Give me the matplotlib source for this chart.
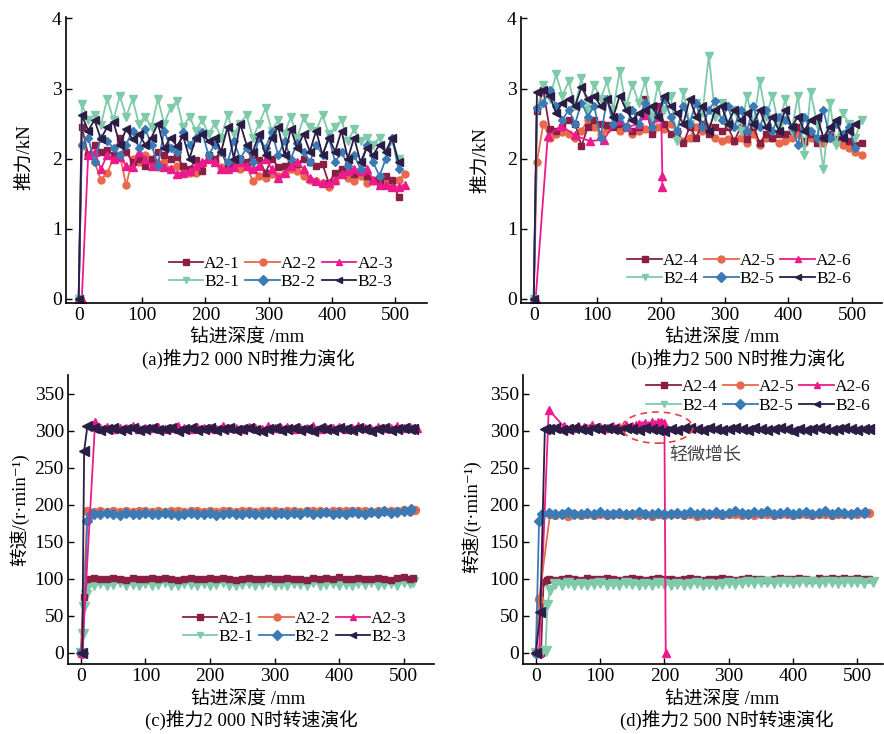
import matplotlib
matplotlib.use("Agg")
import matplotlib.pyplot as plt
from matplotlib.patches import Ellipse
import numpy as np

plt.rcParams["font.family"] = ["Liberation Serif", "Noto Sans CJK SC", "DejaVu Sans"]
plt.rcParams["axes.unicode_minus"] = False

# ---------------- thrust data (kN) ----------------
# common depth grid (mm) for thrust curves
thrust_x = [0, 5, 15, 25, 35, 45, 55, 65, 75, 85,
            95, 105, 115, 125, 135, 145, 155, 165, 175, 185,
            195, 205, 215, 225, 235, 245, 255, 265, 275, 285,
            295, 305, 315, 325, 335, 345, 355, 365, 375, 385,
            395, 405, 415, 425, 435, 445, 455, 465, 475, 485,
            495, 505, 515]
nan = np.nan

# (a) 2000 N
a2_1 = [0, 2.45, 2.05, 2.2, 2.1, 2.12, 2.05, 2.3, 2.1, 1.95,
        2.0, 1.9, 2.0, 2.1, 2.05, 2.0, 2.02, 1.9, 1.85, 1.98,
        1.82, 2.05, 2.0, 2.1, 1.9, 1.95, 2.0, 1.95, 2.05, 1.98,
        1.8, 2.0, 1.88, 1.9, 1.95, 1.92, 2.0, 1.95, 1.9, 1.92,
        1.65, 1.8, 1.85, 1.9, 1.78, 1.82, 1.75, 1.7, 1.65, 1.75,
        1.7, 1.45, nan]
a2_2 = [0, 2.2, 2.05, 1.95, 1.7, 1.8, 2.0, 2.05, 1.62, 2.0,
        1.95, 2.05, 1.95, 1.88, 1.95, 1.85, 1.9, 1.8, 1.8, 1.8,
        1.92, 2.0, 1.95, 1.88, 1.85, 1.9, 1.85, 1.9, 1.68, 1.75,
        1.72, 1.78, 1.75, 1.8, 1.85, 1.82, 1.75, 1.7, 1.68, 1.65,
        1.6, 1.68, 1.78, 1.72, 1.68, 1.75, 1.65, 1.68, 1.7, 1.65,
        1.65, 1.7, 1.78]
a2_3 = [0, 0, 2.05, 2.1, 1.85, 2.05, 2.0, 2.02, 1.9, 1.88,
        2.1, 2.0, 1.9, 1.95, 1.88, 1.85, 1.78, 1.8, 1.82, 1.9,
        1.95, 2.0, 1.95, 1.85, 1.85, 1.88, 1.95, 1.9, 1.85, 1.9,
        2.0, 1.85, 1.72, 1.8, 1.9, 1.95, 1.85, 1.72, 1.68, 1.65,
        1.65, 1.7, 1.78, 1.82, 1.85, 1.82, 1.85, 1.7, 1.62, 1.62,
        1.6, 1.6, 1.63]
b2_1 = [0, 2.78, 2.55, 2.62, 2.48, 2.85, 2.55, 2.9, 2.6, 2.85,
        2.5, 2.6, 2.45, 2.85, 2.5, 2.72, 2.82, 2.45, 2.6, 2.4,
        2.55, 2.35, 2.5, 2.3, 2.62, 2.35, 2.5, 2.62, 2.3, 2.5,
        2.72, 2.4, 2.55, 2.35, 2.6, 2.3, 2.58, 2.45, 2.4, 2.62,
        2.35, 2.45, 2.55, 2.25, 2.42, 2.25, 2.3, 2.2, 2.3, 2.1,
        2.25, 2.0, nan]
b2_2 = [0, 2.2, 2.3, 1.95, 2.3, 2.25, 2.15, 2.05, 2.2, 2.4,
        2.15, 2.42, 2.2, 1.9, 2.4, 2.15, 2.1, 2.38, 2.2, 2.3,
        2.38, 2.05, 2.2, 2.1, 1.95, 2.25, 2.0, 2.15, 1.95, 2.3,
        2.15, 2.38, 2.05, 2.25, 2.0, 2.22, 2.1, 1.95, 2.2, 2.05,
        2.3, 1.95, 2.1, 1.9, 2.05, 1.85, 2.2, 1.95, 1.75, 2.0,
        2.3, 1.85, nan]
b2_3 = [0, 2.62, 2.4, 2.55, 2.28, 2.45, 2.52, 2.2, 2.42, 2.28,
        2.35, 2.2, 2.3, 2.5, 2.15, 2.3, 2.18, 2.32, 2.0, 2.3,
        2.35, 2.25, 2.3, 2.1, 2.45, 2.0, 2.5, 2.2, 2.1, 2.35,
        2.05, 2.3, 2.45, 2.05, 2.42, 2.15, 2.35, 2.1, 2.4, 2.05,
        2.3, 2.1, 2.4, 2.0, 2.3, 1.95, 2.15, 2.05, 2.2, 2.1,
        2.3, 1.95, nan]

# (b) 2500 N
a2_4 = [0, 2.68, 2.98, 2.42, 2.4, 2.45, 2.55, 2.5, 2.18, 2.45,
        2.55, 2.5, 2.48, 2.45, 2.5, 2.45, 2.4, 2.45, 2.85, 2.35,
        2.75, 2.5, 2.35, 2.4, 2.22, 2.45, 2.3, 2.5, 2.35, 2.45,
        2.4, 2.45, 2.25, 2.45, 2.28, 2.45, 2.22, 2.35, 2.3, 2.35,
        2.35, 2.4, 2.45, 2.25, 2.35, 2.22, 2.3, 2.35, 2.28, 2.3,
        2.25, 2.2, 2.22]
a2_5 = [0, 1.95, 2.5, 2.3, 2.35, 2.38, 2.35, 2.3, 2.4, 2.55,
        2.45, 2.35, 2.42, 2.48, 2.4, 2.45, 2.35, 2.4, 2.42, 2.4,
        2.45, 2.42, 2.5, 2.38, 2.25, 2.3, 2.45, 2.4, 2.45, 2.3,
        2.25, 2.28, 2.25, 2.3, 2.22, 2.35, 2.2, 2.3, 2.3, 2.22,
        2.25, 2.3, 2.35, 2.22, 2.3, 2.25, 2.22, 2.3, 2.25, 2.2,
        2.15, 2.1, 2.05]
a2_6_x = [0, 3, 22, 43, 65, 88, 110, 130, 148, 165, 175, 185, 195, 200, 202, 202]
a2_6 = [0, 0, 2.32, 2.47, 2.33, 2.25, 2.27, 2.55, 2.45, 2.5, 2.62, 2.58, 2.6, 2.75, 1.75, 1.6]
b2_4 = [0, 2.7, 3.05, 2.85, 3.2, 2.9, 3.1, 2.75, 3.15, 2.7,
        3.05, 2.85, 3.1, 2.7, 3.25, 2.75, 3.05, 2.8, 3.1, 2.6,
        3.05, 2.7, 2.9, 2.25, 2.95, 2.5, 2.8, 2.65, 3.47, 2.6,
        2.8, 2.5, 2.7, 2.4, 2.9, 2.5, 3.1, 2.6, 2.9, 2.45,
        2.85, 2.4, 2.9, 2.05, 2.95, 2.5, 1.85, 2.8, 2.2, 2.65,
        2.5, 2.3, 2.55]
b2_5 = [0, 2.72, 2.8, 2.98, 2.75, 2.55, 2.7, 2.5, 2.8, 2.6,
        2.75, 2.3, 2.85, 2.5, 2.6, 2.45, 2.7, 2.5, 2.8, 2.45,
        2.62, 2.85, 2.6, 2.4, 2.75, 2.5, 2.8, 2.45, 2.7, 2.82,
        2.55, 2.75, 2.45, 2.7, 2.4, 2.75, 2.45, 2.7, 2.4, 2.6,
        2.55, 2.45, 2.2, 2.6, 2.4, 2.3, 2.7, 2.3, 2.5, 2.35,
        2.45, 2.15, nan]
b2_6 = [0, 2.95, 2.98, 2.9, 2.65, 2.8, 2.85, 2.75, 3.02, 2.85,
        2.9, 2.75, 2.85, 2.6, 2.9, 2.7, 2.55, 2.65, 2.7, 2.75,
        2.6, 2.9, 2.75, 2.65, 2.5, 2.85, 2.6, 2.75, 2.4, 2.7,
        2.75, 2.5, 2.7, 2.55, 2.65, 2.5, 2.7, 2.45, 2.6, 2.4,
        2.7, 2.45, 2.6, 2.4, 2.55, 2.6, 2.3, 2.45, 2.55, 2.3,
        2.4, 2.5, nan]

# ---------------- rotation speed data (r/min) ----------------
grid = list(range(20, 520, 10))      # 20 ... 510 mm, 50 samples
grid30 = list(range(30, 520, 10))    # 30 ... 510 mm, 49 samples

# (c) 2000 N
sa2_1_x = [0, 5, 10] + grid + [515]
sa2_1 = [0, 75, 100,
         101, 100, 100, 101, 100, 99, 101, 100, 100, 101,
         100, 101, 100, 99, 100, 101, 100, 100, 101, 100,
         101, 100, 99, 100, 101, 100, 100, 101, 100, 100,
         101, 100, 100, 99, 101, 100, 101, 100, 103, 100,
         100, 101, 100, 100, 101, 100, 99, 101, 103, 100,
         101]
sa2_2_x = [0, 10] + grid + [518]
sa2_2 = [0, 191,
         190, 191, 190, 192, 190, 191, 190, 192, 191, 190,
         191, 190, 192, 191, 190, 191, 192, 190, 191, 190,
         192, 191, 190, 191, 192, 190, 191, 191, 192, 190,
         191, 192, 190, 191, 192, 191, 190, 192, 191, 192,
         191, 192, 191, 190, 192, 191, 192, 191, 193, 192,
         193]
sa2_3_x = [2, 22] + grid30 + [520]
sa2_3 = [0, 311,
         303, 305, 302, 304, 303, 306, 302, 304, 303, 305,
         302, 304, 306, 303, 302, 305, 303, 304, 302, 306,
         303, 304, 302, 305, 303, 302, 306, 304, 303, 305,
         302, 304, 303, 306, 302, 304, 303, 305, 302, 304,
         306, 303, 302, 305, 304, 303, 306, 303, 305,
         303]
sb2_1_x = [0, 3, 5, 8, 10] + grid + [515]
sb2_1 = [0, 25, 62, 78, 88,
         92, 94, 91, 93, 95, 92, 93, 91, 94, 92,
         93, 95, 91, 92, 94, 93, 91, 94, 92, 93,
         95, 92, 91, 93, 94, 92, 93, 95, 91, 93,
         92, 94, 93, 91, 95, 92, 93, 94, 92, 93,
         91, 94, 93, 95, 92, 93, 94, 92, 95, 94,
         95]
sb2_2_x = [0, 3, 10, 15] + grid + [512]
sb2_2 = [0, 0, 178, 188,
         188, 187, 189, 188, 186, 189, 188, 187, 189, 188,
         187, 189, 188, 186, 188, 189, 187, 188, 189, 186,
         188, 189, 187, 188, 189, 188, 187, 189, 188, 189,
         187, 189, 188, 190, 188, 189, 190, 188, 189, 187,
         190, 189, 188, 190, 189, 191, 189, 190, 191, 192,
         194]
sb2_3_x = [2, 5, 10] + grid + [515]
sb2_3 = [0, 272, 306,
         303, 301, 302, 303, 301, 302, 304, 301, 302, 303,
         301, 302, 303, 300, 302, 303, 301, 302, 303, 301,
         302, 303, 301, 302, 303, 301, 300, 302, 303, 301,
         302, 303, 301, 302, 300, 303, 302, 301, 303, 302,
         301, 303, 302, 300, 302, 303, 301, 302, 303, 302,
         302]

# (d) 2500 N
sa2_4_x = [0, 5, 8, 12, 18] + grid + [518]
sa2_4 = [0, 0, 0, 95, 98,
         100, 99, 100, 101, 100, 99, 101, 100, 100, 101,
         100, 99, 100, 101, 100, 99, 100, 101, 100, 100,
         99, 100, 101, 100, 99, 100, 100, 101, 100, 99,
         100, 101, 100, 100, 99, 100, 101, 100, 100, 101,
         100, 99, 101, 100, 101, 100, 101, 100, 101, 100,
         100]
sa2_5_x = [0, 5, 22] + grid30 + [518]
sa2_5 = [0, 73, 187,
         186, 187, 185, 187, 186, 188, 186, 187, 186, 188,
         187, 186, 188, 186, 187, 185, 187, 186, 188, 187,
         186, 187, 185, 186, 188, 187, 186, 187, 188, 186,
         187, 186, 188, 187, 186, 187, 188, 186, 187, 188,
         186, 187, 188, 186, 187, 188, 187, 188, 189,
         189]
sa2_6_x = [5, 20, 43, 55, 65, 75, 87, 100, 110, 120, 130, 140, 150,
           155, 160, 165, 170, 175, 180, 185, 190, 195, 200, 202]
sa2_6 = [0, 328, 306, 304, 306, 305, 308, 305, 304, 306, 305, 307, 306,
         308, 309, 307, 310, 308, 312, 309, 311, 312, 310, 0]
sb2_4_x = [0, 8, 15, 18, 22] + grid30 + [525]
sb2_4 = [0, 0, 3, 65, 85,
         93, 92, 94, 92, 93, 91, 93, 94, 92, 93,
         92, 94, 93, 91, 93, 92, 94, 93, 92, 93,
         92, 93, 94, 92, 93, 92, 93, 94, 93, 94,
         95, 94, 96, 95, 94, 96, 95, 94, 95, 96,
         95, 94, 96, 95, 94, 95, 96, 95, 94,
         95]
sb2_5_x = [0, 5, 10] + grid + [512]
sb2_5 = [0, 178, 188,
         189, 187, 188, 190, 188, 187, 189, 188, 190, 187,
         188, 189, 187, 188, 190, 188, 187, 189, 188, 187,
         189, 188, 190, 187, 189, 188, 190, 188, 189, 191,
         189, 188, 190, 189, 191, 188, 189, 190, 188, 189,
         190, 188, 189, 191, 188, 190, 189, 188, 190, 189,
         190]
sb2_6_x = [0, 7, 14] + grid + [518]
sb2_6 = [0, 55, 302,
         302, 303, 301, 302, 304, 302, 301, 303, 302, 304,
         302, 301, 303, 302, 301, 303, 302, 301, 300, 302,
         301, 303, 304, 302, 301, 303, 302, 301, 302, 304,
         302, 301, 303, 302, 301, 302, 303, 302, 300, 302,
         301, 302, 303, 302, 301, 302, 303, 302, 301, 302,
         302]

# ---------------- styles ----------------
STYLE = {
    "A1": dict(color="#8a1f45", marker="s", ms=4.2),
    "A2": dict(color="#e8694c", marker="o", ms=5.0),
    "A3": dict(color="#ec1a8c", marker="^", ms=5.5),
    "B1": dict(color="#7fcaa9", marker="v", ms=6.0),
    "B2": dict(color="#3b7bb5", marker="D", ms=4.5),
    "B3": dict(color="#2b1d45", marker="<", ms=6.0),
}
LEG_ORDER = ["A1", "B1", "A2", "B2", "A3", "B3"]


def draw(ax, series, order, scale=1.0):
    handles = {}
    for key in order:
        x, y, label = series[key]
        st = STYLE[key]
        h, = ax.plot(x, y, color=st["color"], marker=st["marker"], ms=st["ms"] * scale,
                     mec=st["color"], mfc=st["color"], lw=1.3, label=label)
        handles[key] = h
    return [handles[k] for k in LEG_ORDER]


def style_axes(ax, ylim, yticks, xlim):
    ax.set_xlim(*xlim)
    ax.set_ylim(*ylim)
    ax.set_yticks(yticks)
    ax.set_xticks([0, 100, 200, 300, 400, 500])
    for s in ["top", "right"]:
        ax.spines[s].set_visible(False)
    for s in ["left", "bottom"]:
        ax.spines[s].set_linewidth(1.2)
    ax.tick_params(direction="in", length=4, width=1, labelsize=14, pad=3)


def legend(ax, handles, anchor, loc):
    leg = ax.legend(handles=handles, labels=[h.get_label() for h in handles], ncol=3,
                    loc=loc, bbox_to_anchor=anchor, frameon=False, fontsize=12.5,
                    handlelength=2.0, handletextpad=0.05, columnspacing=0.3,
                    labelspacing=0.15, borderaxespad=0.0)
    for h in leg.legend_handles:
        h.set_markersize(5)


W, H = 884, 734
fig = plt.figure(figsize=(W / 100, H / 100), dpi=100)


def px_axes(l, t, r, b):
    return fig.add_axes([l / W, 1 - b / H, (r - l) / W, (b - t) / H])


axa = px_axes(66, 17, 427, 303)
axb = px_axes(521, 17, 882, 303)
axc = px_axes(68, 375, 434, 664)
axd = px_axes(523, 375, 883, 664)

# (a)
ha = draw(axa, {
    "A1": (thrust_x, a2_1, "A2-1"), "A2": (thrust_x, a2_2, "A2-2"),
    "A3": (thrust_x, a2_3, "A2-3"), "B1": (thrust_x, b2_1, "B2-1"),
    "B2": (thrust_x, b2_2, "B2-2"), "B3": (thrust_x, b2_3, "B2-3"),
}, ["A2", "A1", "A3", "B1", "B2", "B3"])
style_axes(axa, (-0.06, 4.02), [0, 1, 2, 3, 4], (-20, 550))
legend(axa, ha, (0.925, 0.02), "lower right")

# (b)
hb = draw(axb, {
    "A1": (thrust_x, a2_4, "A2-4"), "A2": (thrust_x, a2_5, "A2-5"),
    "A3": (a2_6_x, a2_6, "A2-6"), "B1": (thrust_x, b2_4, "B2-4"),
    "B2": (thrust_x, b2_5, "B2-5"), "B3": (thrust_x, b2_6, "B2-6"),
}, ["A2", "A1", "A3", "B1", "B2", "B3"])
style_axes(axb, (-0.06, 4.02), [0, 1, 2, 3, 4], (-20, 547))
legend(axb, hb, (0.935, 0.03), "lower right")

# (c)
hc = draw(axc, {
    "A1": (sa2_1_x, sa2_1, "A2-1"), "A2": (sa2_2_x, sa2_2, "A2-2"),
    "A3": (sa2_3_x, sa2_3, "A2-3"), "B1": (sb2_1_x, sb2_1, "B2-1"),
    "B2": (sb2_2_x, sb2_2, "B2-2"), "B3": (sb2_3_x, sb2_3, "B2-3"),
}, ["B1", "A1", "A2", "B2", "A3", "B3"], scale=1.15)
style_axes(axc, (-15, 375), list(range(0, 351, 50)), (-20, 547))
legend(axc, hc, (0.945, 0.04), "lower right")

# (d)
hd = draw(axd, {
    "A1": (sa2_4_x, sa2_4, "A2-4"), "A2": (sa2_5_x, sa2_5, "A2-5"),
    "A3": (sa2_6_x, sa2_6, "A2-6"), "B1": (sb2_4_x, sb2_4, "B2-4"),
    "B2": (sb2_5_x, sb2_5, "B2-5"), "B3": (sb2_6_x, sb2_6, "B2-6"),
}, ["A1", "B1", "A3", "A2", "B2", "B3"], scale=1.15)
style_axes(axd, (-15, 375), list(range(0, 351, 50)), (-20, 540))
legend(axd, hd, (0.985, 1.01), "upper right")

axd.add_patch(Ellipse((189, 304), 110, 42, fill=False, ec="#e8413c",
                      ls=(0, (4, 3)), lw=1.2, zorder=5))
axd.text(207, 267, "轻微增长", fontsize=13, color="#444444", va="center", ha="left")


# labels
def ftext(x, y, s, **kw):
    fig.text(x / W, 1 - y / H, s, ha="center", va="center", fontsize=13.5, **kw)


ftext(247, 338, "钻进深度 /mm")
ftext(722, 338, "钻进深度 /mm")
ftext(248, 700, "钻进深度 /mm")
ftext(722, 700, "钻进深度 /mm")
ftext(248, 359, "(a)推力2 000 N时推力演化")
ftext(738, 359, "(b)推力2 500 N时推力演化")
ftext(251, 720, "(c)推力2 000 N时转速演化")
ftext(727, 720, "(d)推力2 500 N时转速演化")
ftext(25, 157, "推力/kN", rotation=90)
ftext(481, 160, "推力/kN", rotation=90)
ftext(19, 510, "转速/(r·min⁻¹)", rotation=90)
ftext(471, 517, "转速/(r·min⁻¹)", rotation=90)

fig.savefig("out.png", dpi=100)
